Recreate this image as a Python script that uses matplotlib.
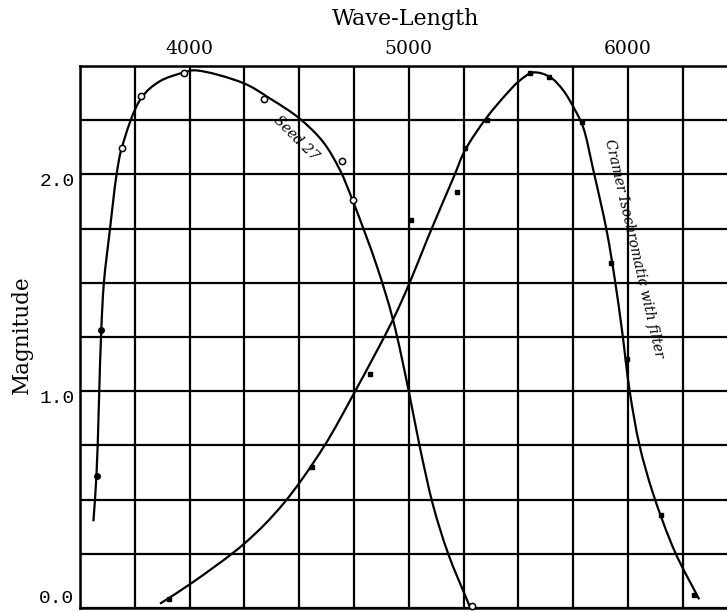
import numpy as np
import matplotlib
matplotlib.use("Agg")
import matplotlib.pyplot as plt
import matplotlib.transforms as mtransforms
from matplotlib.path import Path
from matplotlib.patches import PathPatch

# Seed 27 plate: measured points (filled = short wave end, open = rest)
seed_filled_wl = [3576, 3596]
seed_filled_mag = [0.61, 1.28]
seed_open_wl = [3690, 3778, 3976, 4339, 4697, 4744, 5290]
seed_open_mag = [2.12, 2.36, 2.47, 2.35, 2.06, 1.88, 0.01]

# Seed 27 drawn curve
seed_curve_wl = [3561, 3575, 3597, 3609, 3637, 3667, 3690, 3778, 3865,
                 3974, 4025, 4248, 4367, 4499, 4609, 4686, 4744, 4855, 4928, 5002,
                 5051, 5112, 5180, 5279]
seed_curve_mag = [0.40, 0.61, 1.28, 1.50, 1.75, 2.00, 2.12, 2.35, 2.43,
                  2.47, 2.48, 2.42, 2.35, 2.26, 2.15, 2.02, 1.88, 1.575, 1.33, 0.99,
                  0.74, 0.47, 0.25, 0.005]

# Cramer Isochromatic with filter: measured points
cramer_wl = [3907, 4557, 4823, 5012, 5218, 5256, 5355, 5553, 5640, 5789, 5922, 5998, 6149, 6302]
cramer_mag = [0.04, 0.65, 1.08, 1.79, 1.92, 2.12, 2.25, 2.47, 2.45, 2.24, 1.59, 1.15, 0.43, 0.06]

# Cramer drawn curve
cramer_curve_wl = [3865, 4002, 4253, 4427, 4610, 4750, 4928, 5004, 5088, 5206, 5256,
                   5354, 5445, 5503, 5567, 5643, 5703, 5757, 5795, 5842, 5903, 5941,
                   5973, 6008, 6053, 6114, 6214, 6325]
cramer_curve_mag = [0.02, 0.11, 0.30, 0.48, 0.74, 0.99, 1.33, 1.50, 1.71, 1.99, 2.11,
                    2.26, 2.37, 2.43, 2.47, 2.45, 2.39, 2.30, 2.22, 2.02, 1.74, 1.51,
                    1.28, 1.00, 0.75, 0.53, 0.26, 0.04]

x_labels = {4000: "4000", 5000: "5000", 6000: "6000"}
y_labels = {0.0: "0.0", 1.0: "1.0", 2.0: "2.0"}

# rough px per data unit, only used so the smoothing sees the curve as drawn
SX = 54.8 / 250
SY = 54.2 / 0.25


def smooth_path(xs, ys):
    # centripetal Catmull-Rom through the traced points, as cubic Bezier pieces
    p = np.column_stack([np.asarray(xs) * SX, np.asarray(ys) * SY]).astype(float)
    p = np.vstack([2 * p[0] - p[1], p, 2 * p[-1] - p[-2]])
    verts = [p[1]]
    codes = [Path.MOVETO]
    for i in range(1, len(p) - 2):
        p0, p1, p2, p3 = p[i - 1], p[i], p[i + 1], p[i + 2]
        d1 = np.linalg.norm(p1 - p0)
        d2 = np.linalg.norm(p2 - p1)
        d3 = np.linalg.norm(p3 - p2)
        r1, r2, r3 = np.sqrt(d1), np.sqrt(d2), np.sqrt(d3)
        b1 = (d1 * p2 - d2 * p0 + (2 * d1 + 3 * r1 * r2 + d2) * p1) / (3 * r1 * (r1 + r2))
        b2 = (d3 * p1 - d2 * p3 + (2 * d3 + 3 * r3 * r2 + d2) * p2) / (3 * r3 * (r3 + r2))
        verts += [b1, b2, p2]
        codes += [Path.CURVE4] * 3
    verts = np.array(verts) / [SX, SY]
    return Path(verts, codes)


fig = plt.figure(figsize=(7.27, 6.12), dpi=100)
ax = fig.add_axes([80 / 727, 4 / 612, 647 / 727, 542 / 612])

ax.set_xlim(3500, 6452)
ax.set_ylim(0, 2.5)

xt = np.arange(3500, 6451, 250)
yt = np.arange(0, 2.51, 0.25)
ax.set_xticks(xt)
ax.set_xticklabels([x_labels.get(int(v), "") for v in xt], family="DejaVu Serif", fontsize=13.5)
ax.set_yticks(yt)
ax.set_yticklabels([y_labels.get(round(v, 2), "") for v in yt], family="Liberation Mono", fontsize=14)
ax.xaxis.tick_top()
ax.tick_params(axis="x", length=0, pad=6)
ax.tick_params(axis="y", length=0, pad=4)
ax.grid(True, color="black", linewidth=1.6)
ax.set_axisbelow(True)
for s in ["left", "top", "bottom"]:
    ax.spines[s].set_linewidth(1.8)
ax.spines["right"].set_visible(False)

# nudge y labels like the printed figure (a little below the rule, 0.0 lifted)
for lab, v in zip(ax.get_yticklabels(), yt):
    dy = 8 / 72 if round(v, 2) == 0.0 else -4 / 72
    lab.set_transform(lab.get_transform() + mtransforms.ScaledTranslation(0, dy, fig.dpi_scale_trans))

fig.text(406 / 727, 1 - 19 / 612, "Wave-Length", family="DejaVu Serif", fontsize=16,
         ha="center", va="center")
fig.text(22 / 727, 1 - 335 / 612, "Magnitude", family="DejaVu Serif", fontsize=15.5,
         rotation=90, ha="center", va="center")

for cx, cy in [(seed_curve_wl, seed_curve_mag), (cramer_curve_wl, cramer_curve_mag)]:
    ax.add_patch(PathPatch(smooth_path(cx, cy), facecolor="none", edgecolor="black",
                           lw=1.6, zorder=3))

ax.plot(seed_open_wl, seed_open_mag, "o", ms=4.5, mfc="white", mec="black", mew=1.1,
        zorder=4, clip_on=False)
ax.plot(seed_filled_wl, seed_filled_mag, "o", ms=4, color="black", zorder=4)
ax.plot(cramer_wl, cramer_mag, "s", ms=2.8, color="black", zorder=4)

ax.text(4486, 2.165, "Seed 27", rotation=-45, fontsize=10, style="italic",
        family="DejaVu Serif", ha="center", va="center", zorder=5)
ax.text(6030, 1.66, "Cramer Isochromatic with filter", rotation=-77, fontsize=10,
        style="italic", family="DejaVu Serif", ha="center", va="center", zorder=5)

fig.savefig("out.png", dpi=100)
